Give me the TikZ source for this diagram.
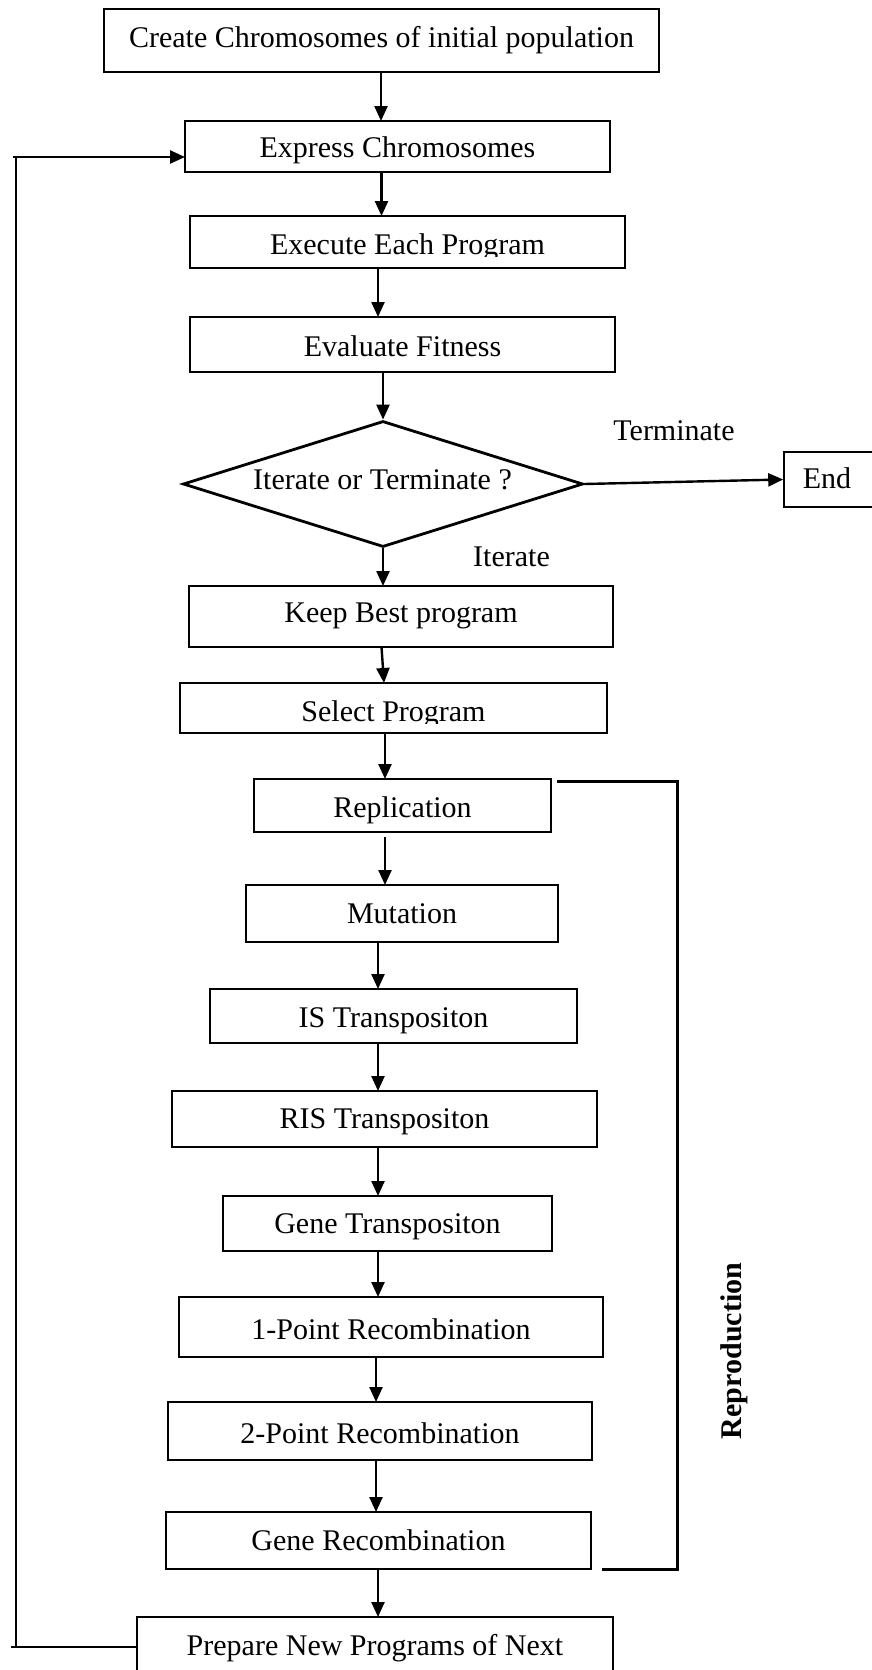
\documentclass[tikz,border=0pt]{standalone}
\usepackage{fontspec}
\setmainfont{Liberation Serif}
\usetikzlibrary{arrows.meta,shapes.geometric,calc}
\newcommand\flowbox[7]{%
  \node[boxst, minimum width={(#4-#2)*0.5pt}, minimum height={(#5-#3)*0.5pt}] (#1) at ({(#2+#4)/2},{(#3+#5)/2}) {};
  \node[txt] (#1-t) at ({(#2+#4)/2},#6) {#7};
}
\begin{document}
\begin{tikzpicture}[x=0.5pt,y=-0.5pt,
  boxst/.style={draw, rectangle, line width=1.4pt, inner sep=0pt, outer sep=0pt},
  txt/.style={anchor=base, inner sep=0pt, font=\fontsize{15}{18}\selectfont},
  conn/.style={line width=1.2pt},
  arr/.style={line width=1.2pt, -{Triangle[length=7.5pt,width=6.5pt]}},
  brk/.style={line width=1.5pt}]
\useasboundingbox (0,0) rectangle (872,1670);
\clip (0,0) rectangle (872,1670);

\flowbox{create}{104}{9}{659}{72}{47}{Create Chromosomes of initial population}
\flowbox{express}{185}{121}{610}{172}{157}{Express Chromosomes}
% execute (text clipped at bottom)
\node[boxst, minimum width={435*0.5pt}, minimum height={52*0.5pt}] (execute) at (407.5,242) {};
\begin{scope}
  \clip (190,216) rectangle (625,256.5);
  \node[txt] (execute-t) at (407.5,254) {Execute Each Program};
\end{scope}
\flowbox{evaluate}{190}{317}{615}{372}{356}{Evaluate Fitness}
\node[draw, diamond, line width=1.4pt, inner sep=0pt, minimum width={400*0.5pt}, minimum height={126*0.5pt}] (decide) at (383,484) {};
\node[txt] (decide-t) at (382.5,489) {Iterate or Terminate ?};
\node[draw, rectangle, line width=0.8pt, inner sep=0pt, minimum width={120*0.5pt}, minimum height={55*0.5pt}] (endbox) at (844,479.5) {};
\node[txt] (endbox-t) at (827,488) {End};
\node[txt] (termlbl) at (674,440) {Terminate};
\node[txt] (iterlbl) at (511.5,566) {Iterate};
\flowbox{keep}{189}{586}{613}{647}{622}{Keep Best program}
% select (text clipped at bottom)
\node[boxst, minimum width={427*0.5pt}, minimum height={50*0.5pt}] (select) at (393.5,708) {};
\begin{scope}
  \clip (180,683) rectangle (607,723.5);
  \node[txt] (select-t) at (393.5,721) {Select Program};
\end{scope}
\flowbox{repl}{254}{779}{551}{832}{817}{Replication}
\flowbox{mut}{246}{885}{558}{942}{923}{Mutation}
\flowbox{ist}{210}{989}{577}{1043}{1027}{IS Transpositon}
\flowbox{rist}{172}{1091}{597}{1147}{1128}{RIS Transpositon}
\flowbox{genet}{223}{1196}{552}{1251}{1233}{Gene Transpositon}
\flowbox{onep}{179}{1297}{603}{1357}{1339}{1-Point Recombination}
\flowbox{twop}{168}{1402}{592}{1460}{1443}{2-Point Recombination}
\flowbox{gener}{166}{1512}{591}{1569}{1550}{Gene Recombination}
\flowbox{prepare}{137}{1617}{613}{1720}{1655}{Prepare New Programs of Next}

\node[rotate=90, inner sep=0pt, font=\bfseries\fontsize{15}{18}\selectfont] (repro) at (734,1351) {Reproduction};

% columns for vertical connectors
\coordinate (xa) at (381,0);
\coordinate (xb) at (381.5,0);
\coordinate (xc) at (378,0);
\coordinate (xd) at (383,0);
\coordinate (xg) at (385,0);
\coordinate (xm) at (376,0);

\draw[arr] (create.south -| xa) -- (express.north -| xa);
\draw[arr] (express.south -| xb) -- (execute.north -| xb);
\draw[arr] (execute.south -| xc) -- (evaluate.north -| xc);
\draw[arr] (evaluate.south -| xd) -- (decide.north);
\draw[arr] (decide.south) -- (keep.north -| xd);
\draw[arr] ([xshift=-9.75pt]keep.south) -- ([xshift=-4.75pt]select.north);
\draw[arr] (select.south -| xg) -- (repl.north -| xg);
\draw[arr] ([yshift=-2.5pt]repl.south -| xg) -- (mut.north -| xg);
\draw[arr] (mut.south -| xc) -- (ist.north -| xc);
\draw[arr] (ist.south -| xc) -- (rist.north -| xc);
\draw[arr] (rist.south -| xc) -- (genet.north -| xc);
\draw[arr] (genet.south -| xc) -- (onep.north -| xc);
\draw[arr] (onep.south -| xm) -- (twop.north -| xm);
\draw[arr] (twop.south -| xm) -- (gener.north -| xm);
\draw[arr] (gener.south -| xc) -- (prepare.north -| xc);
\draw[arr] (decide.east) -- (endbox.west);

% reproduction bracket
\coordinate (brA) at (557,781);
\coordinate (brB) at (677,1569);
\coordinate (brC) at (602,1569);
\draw[brk] (brA) -| (brB) -- (brC);

% feedback loop
\coordinate (fbA) at (11,1647);
\coordinate (fbB) at (16,1648);
\coordinate (fbC) at (16,156);
\coordinate (fbD) at (13,157);
\draw[conn] (prepare.west |- fbA) -- (fbA);
\draw[conn] (fbB) -- (fbC);
\draw[arr] (fbD) -- (express.west |- fbD);
\end{tikzpicture}
\end{document}
